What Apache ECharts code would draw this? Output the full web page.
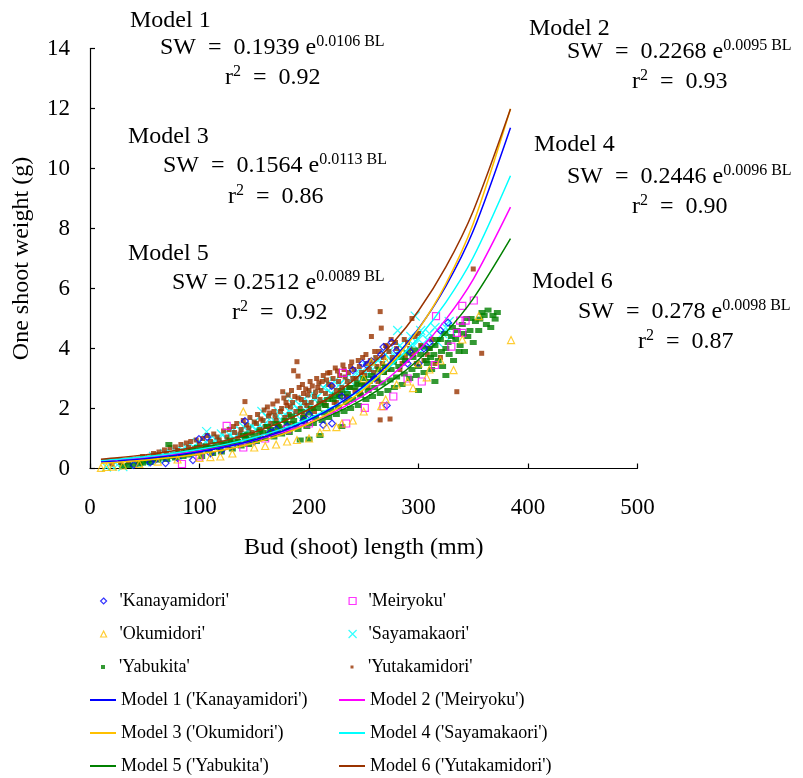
<!DOCTYPE html>
<html><head><meta charset="utf-8">
<script src="https://cdn.jsdelivr.net/npm/echarts@6/dist/echarts.min.js"></script>
<style>html,body{margin:0;padding:0;background:#fff}#c{width:803px;height:778px}</style>
</head><body><div id="c"></div>
<script>
// ---- data: [bud length (mm), shoot weight (g)] ----
const kanayamidori = [[40,0.12],[55,0.2],[60,0.3],[69,0.18],[80,0.35],[94,0.28],[99.5,0.98],[107,1.05],[110,0.5],[120,0.6],[130,0.75],[141.5,1.58],[150,0.9],[165,1.2],[170,1.3],[180,1.4],[195,1.6],[200,1.8],[213,1.45],[220.7,2.75],[221,1.5],[230,2.4],[240,3.28],[249,3.5],[252.6,3.45],[257,3.58],[260,3.0],[266,3.8],[268,4.05],[271,2.1],[275.5,4.2],[280,3.93],[290,3.5],[292,3.9],[300,3.5],[305,4.0],[310,4.2],[320,4.6],[327,4.86]];
const meiryoku = [[84,0.15],[100,0.4],[124.8,1.42],[140,0.7],[160,1.0],[180,1.3],[200,1.5],[231,3.19],[234,1.5],[251,2.02],[268,2.08],[277,2.4],[290,3.0],[303,2.9],[315,3.45],[316,5.08],[330,4.06],[335,4.52],[338,4.93],[340,4.52],[340,5.42],[343,4.93],[350.5,5.6]];
const okumidori = [[10,0.02],[15,0.05],[21,0.06],[30,0.1],[45,0.15],[62,0.23],[80,0.3],[100,0.35],[110,0.38],[119,0.4],[130,0.5],[140,1.9],[150,0.7],[160,0.75],[170,0.8],[180,0.9],[189,0.95],[200,1.0],[210,1.2],[216,1.38],[225,1.38],[230,1.5],[240,1.6],[250,1.9],[250,3.0],[257,3.56],[265,3.3],[266,2.08],[270,2.3],[270,3.6],[280,2.8],[285,3.9],[290,2.9],[295,2.68],[300,3.5],[307.5,3.04],[310,3.3],[320,3.6],[332,3.28],[340,4.3],[355,5.08],[384.5,4.28]];
const sayamakaori = [[15,0.05],[20,0.08],[25,0.12],[30,0.06],[35,0.15],[40,0.2],[45,0.25],[50,0.22],[52,0.28],[55,0.3],[58,0.4],[60,0.35],[62,0.32],[65,0.4],[68,0.5],[70,0.38],[72,0.45],[75,0.5],[78,0.58],[80,0.45],[82,0.55],[85,0.6],[88,0.7],[90,0.55],[92,0.65],[95,0.7],[98,0.85],[100,0.65],[103,0.8],[106.5,1.23],[108,0.8],[110,1.0],[112,0.9],[115,0.95],[118,1.0],[120,1.15],[122,0.85],[125,1.0],[128,1.1],[130,1.25],[132,1.0],[135,1.15],[138,1.25],[140,1.4],[142,1.15],[145,1.3],[148,1.4],[150,1.55],[152,1.3],[155,1.45],[157,1.9],[160,1.5],[162,1.7],[165,1.4],[168,1.6],[170,1.7],[172,1.9],[175,1.6],[178,1.8],[181,2.42],[182,1.9],[185,2.15],[188,1.8],[190,2.0],[192,2.1],[195,2.3],[198,2.0],[200,2.2],[203,2.5],[205,2.3],[208,2.4],[210,2.2],[213,2.7],[217,2.85],[218,2.6],[220,2.5],[223,2.9],[225,2.4],[228,2.8],[230,2.75],[233,3.0],[235,2.6],[238,2.9],[240,3.0],[243,3.2],[245,2.9],[248,3.1],[250,3.2],[253,3.4],[255,3.1],[258,3.3],[260,3.5],[263,3.6],[265,3.3],[268,3.5],[270,3.8],[273,3.9],[275,3.6],[278,3.8],[281,4.6],[283,4.1],[285,4.0],[288,3.9],[290,4.2],[293,4.4],[296,4.1],[297,5.08],[300,4.3],[302,4.6],[305,4.0],[308,4.3],[310,4.5],[315,4.7],[318,4.2],[322,4.5],[325,4.7],[328,4.9],[330,4.4]];
const yabukita = [[30,0.08],[35,0.1],[40,0.12],[45,0.15],[48,0.18],[52,0.25],[55,0.2],[58,0.3],[62,0.28],[65,0.35],[70,0.3],[72,0.8],[75,0.4],[78,0.35],[82,0.5],[85,0.4],[88,0.55],[90,0.45],[93,0.6],[95,0.5],[98,0.7],[100,0.55],[102,0.4],[104,0.65],[106,0.75],[108,0.6],[110,0.7],[112,0.5],[115,0.8],[118,0.7],[120,0.55],[122,0.85],[125,0.8],[128,0.95],[130,0.65],[132,0.85],[135,0.9],[138,0.75],[140,1.1],[142,1.0],[144,1.15],[145,0.8],[148,0.95],[150,1.1],[152,0.9],[155,1.25],[156,1.0],[158,1.2],[160,1.0],[162,1.4],[163,1.15],[165,1.3],[168,1.05],[170,1.5],[171,1.25],[172,1.4],[175,1.15],[178,1.6],[179,1.3],[180,1.5],[182,1.2],[184,1.75],[186,1.6],[188,1.45],[190,1.3],[192,0.95],[193,1.9],[195,1.7],[196,1.55],[198,1.4],[200,1.85],[200,0.98],[202,2.0],[204,1.5],[206,1.7],[208,2.0],[210,1.1],[210,2.15],[212,1.6],[214,1.85],[215,2.1],[217,2.3],[218,1.7],[220,1.95],[222,2.3],[224,2.45],[225,1.8],[227,2.05],[228,2.4],[230,1.4],[230,2.6],[232,1.9],[234,2.2],[235,2.5],[237,2.7],[238,2.0],[240,2.3],[242,2.7],[244,2.85],[245,2.1],[247,2.45],[248,2.8],[250,3.0],[252,2.3],[254,2.6],[255,2.9],[257,3.1],[258,2.4],[260,2.7],[262,3.0],[264,3.3],[265,2.5],[267,2.85],[268,3.2],[270,3.4],[272,2.6],[274,2.95],[275,3.3],[277,3.55],[278,2.7],[280,3.05],[282,3.4],[284,3.7],[285,2.8],[287,3.15],[288,3.6],[290,3.85],[292,3.0],[294,3.3],[295,3.7],[297,3.95],[298,3.1],[300,2.6],[300,3.4],[302,3.8],[304,4.05],[305,3.2],[307,3.6],[308,3.5],[310,4.0],[311,3.7],[312,3.3],[314,3.8],[315,4.1],[315,2.9],[317,4.3],[318,3.6],[320,4.3],[321,3.9],[322,3.4],[324,4.5],[325,4.0],[325,3.1],[327,4.2],[328,3.8],[330,4.4],[331,4.7],[332,3.6],[334,4.3],[335,4.6],[337,3.9],[338,4.1],[340,4.8],[341,4.5],[342,3.9],[344,5.0],[345,4.4],[347,4.6],[348,5.0],[350,4.2],[352,4.9],[355,4.6],[356,4.98],[358,5.2],[360,5.1],[362,4.8],[363.5,5.28],[366,4.7],[368,5.1],[370,4.98],[372,5.2]];
const yutakamidori = [[20,0.15],[28,0.2],[35,0.22],[40,0.3],[45,0.25],[48,0.4],[50,0.35],[55,0.3],[58,0.5],[60,0.45],[63,0.55],[65,0.4],[68,0.62],[70,0.5],[73,0.7],[75,0.45],[78,0.72],[80,0.6],[83,0.8],[85,0.55],[88,0.85],[90,0.7],[92,0.9],[95,0.65],[97,0.95],[100,0.8],[100,0.6],[103,1.0],[105,0.75],[107,1.1],[110,0.9],[110,0.65],[112,0.7],[113,1.15],[116,1.05],[118,0.95],[120,0.8],[122,1.25],[125,1.05],[125,0.75],[127,1.3],[128,0.9],[131,1.4],[132,1.2],[134,1.5],[135,1.0],[135,0.85],[137,1.15],[138,1.3],[140,1.6],[141.5,2.23],[142,1.1],[143,1.45],[145,1.35],[145,0.95],[146,1.7],[148,1.2],[150,1.55],[152,1.5],[153,1.8],[155,1.3],[155,1.1],[156,1.65],[158,1.6],[159,1.95],[160,1.4],[162,2.05],[163,1.75],[164,1.85],[165,1.5],[165,1.2],[167,2.15],[168,1.9],[169,1.75],[170,1.6],[171,2.25],[172,1.45],[174,1.9],[175,2.0],[175,1.35],[176,2.56],[177,2.35],[178,1.7],[179,2.2],[180,2.1],[181,2.45],[182,1.8],[183,2.05],[184,2.6],[185,2.2],[185,1.5],[186,3.26],[187,2.4],[188,1.9],[189,3.56],[190,3.08],[190,2.35],[191,2.7],[192,2.0],[193,2.3],[194,2.8],[195,2.5],[195,1.75],[196,2.2],[197,2.65],[198,2.1],[199,2.45],[200,2.6],[201,2.9],[202,2.2],[203,2.75],[204,2.0],[205,2.4],[205,1.9],[206,2.55],[207,3.0],[208,2.7],[209,2.85],[210,2.3],[211,2.6],[212,2.9],[213,3.1],[214,2.2],[215,2.5],[215,2.1],[216,2.95],[217,3.18],[218,2.8],[219,3.2],[220,2.4],[221,2.75],[222,3.0],[223,2.2],[224,3.35],[225,2.6],[225,2.2],[226,3.25],[227,2.9],[228,3.1],[229,2.5],[230,2.7],[231,3.45],[232,3.3],[233,3.05],[234,2.4],[235,2.9],[235,2.35],[236,3.2],[237,2.7],[238,3.4],[239,3.55],[240,3.0],[241,3.3],[242,2.6],[243,3.0],[244,2.8],[245,3.6],[245,2.5],[246,3.4],[247,2.5],[248,3.2],[249,3.7],[250,2.8],[251,3.1],[252,3.8],[253,3.5],[254,2.7],[255,3.3],[256,3.6],[257,4.4],[258,3.0],[259,3.2],[260,3.9],[261,3.7],[262,3.4],[263,2.9],[264,3.9],[265,5.23],[265,1.62],[266,4.68],[267,3.5],[268,3.7],[269,3.2],[270,4.1],[271,4.06],[272,3.3],[273,3.9],[274,1.65],[275,4.3],[276,3.7],[278,3.6],[279,4.2],[280,4.0],[282,3.8],[283,3.3],[285,3.5],[287,4.3],[288,3.7],[290,4.2],[292,4.0],[294,5.0],[295,3.8],[297,4.4],[298,3.5],[300,4.5],[302,4.1],[305,3.6],[308,3.8],[310,4.0],[312,4.3],[315,3.5],[320,3.7],[335,2.56],[350,6.65],[357.7,3.84]];

// model curves, tabulated at modelX
const modelX = [10,25,50,75,100,125,150,175,200,225,250,275,300,325,350,384];
const model1 = [0.216,0.253,0.329,0.429,0.560,0.730,0.951,1.239,1.615,2.106,2.744,3.577,4.663,6.077,7.922,11.36];
const model2 = [0.249,0.288,0.365,0.463,0.586,0.744,0.943,1.196,1.516,1.923,2.438,3.092,3.921,4.972,6.305,8.71];
const model3 = [0.175,0.208,0.275,0.365,0.484,0.642,0.852,1.130,1.499,1.988,2.637,3.498,4.640,6.154,8.164,11.99];
const model4 = [0.269,0.311,0.395,0.503,0.639,0.812,1.032,1.312,1.668,2.121,2.696,3.428,4.357,5.539,7.042,9.76];
const model5 = [0.275,0.314,0.392,0.490,0.612,0.764,0.955,1.192,1.490,1.861,2.324,2.904,3.627,4.531,5.661,7.66];
const model6 = [0.307,0.355,0.454,0.580,0.741,0.946,1.209,1.545,1.974,2.522,3.222,4.116,5.259,6.718,8.584,11.98];

const xTicks = [0,100,200,300,400,500];
const yTicks = [0,2,4,6,8,10,12,14];

const FONT = 'Liberation Serif';
const names = {
  k:"'Kanayamidori'", m:"'Meiryoku'", o:"'Okumidori'", s:"'Sayamakaori'", y:"'Yabukita'", t:"'Yutakamidori'",
  m1:"Model 1 ('Kanayamidori')", m2:"Model 2 ('Meiryoku')", m3:"Model 3 ('Okumidori')",
  m4:"Model 4 ('Sayamakaori')", m5:"Model 5 ('Yabukita')", m6:"Model 6 ('Yutakamidori')"
};
const C = {blue:'#0000FF', mag:'#FF00FF', yel:'#FFC000', cyan:'#00FFFF', green:'#008000', brown:'#993300'};
const XPATH = 'path://M0,0L10,10M10,0L0,10';

function hollow(name, data, symbol, size, color) {
  return {name, type:'scatter', data, symbol, symbolSize:size,
    itemStyle:{color:'rgba(0,0,0,0)', borderColor:color, borderWidth:1.2}, z:2};
}
function filled(name, data, size, color) {
  return {name, type:'scatter', data, symbol:'rect', symbolSize:size, itemStyle:{color}, z:2};
}
function curve(name, ys, color) {
  return {name, type:'line', data: modelX.map((x,i)=>[x, ys[i]]), symbol:'none', smooth:0.3,
    lineStyle:{color, width:1.5}, itemStyle:{color}, z:3};
}

const series = [
  hollow(names.s, sayamakaori, XPATH, 9, C.cyan),
  filled(names.t, yutakamidori, [5,5], C.brown),
  filled(names.y, yabukita, [7,5], C.green),
  hollow(names.k, kanayamidori, 'diamond', 7, C.blue),
  hollow(names.m, meiryoku, 'rect', 7, C.mag),
  hollow(names.o, okumidori, 'triangle', 7, C.yel),
  curve(names.m5, model5, C.green),
  curve(names.m2, model2, C.mag),
  curve(names.m4, model4, C.cyan),
  curve(names.m1, model1, C.blue),
  curve(names.m3, model3, C.yel),
  curve(names.m6, model6, C.brown)
];

// legend layout: [name, column, row, icon, icon size, border]
const legendRows = [
  [names.k,0,0,'diamond',6,1.2],[names.m,1,0,'rect',7,1.2],
  [names.o,0,1,'triangle',6,1.2],[names.s,1,1,XPATH,8,1.2],
  [names.y,0,2,'rect',4,0],[names.t,1,2,'rect',3,0],
  [names.m1,0,3,'line'],[names.m2,1,3,'line'],
  [names.m3,0,4,'line'],[names.m4,1,4,'line'],
  [names.m5,0,5,'line'],[names.m6,1,5,'line']
];
const colLeft = [90, 339];
const colCenter = [103, 352];
const textStyle = {fontFamily:FONT, fontSize:18, color:'#000'};
const legends = legendRows.map(([n,c,r,icon,sz,bw]) => {
  const top = 592 + r*33;
  if (icon === 'line') {
    return {data:[{name:n, icon:'rect'}], left:colLeft[c], top, padding:0,
      itemWidth:26, itemHeight:2, selectedMode:false, itemStyle:{borderWidth:0}, textStyle};
  }
  return {data:[{name:n, icon}], left:colCenter[c]-sz/2, top, padding:0,
    itemWidth:sz, itemHeight:sz, selectedMode:false, itemStyle:{borderWidth:bw},
    textStyle:Object.assign({padding:[0,0,0,11 - sz/2]}, textStyle)};
});

// annotation texts
const rich = {
  a:{fontFamily:FONT, fontSize:24, color:'#000', lineHeight:28},
  s:{fontFamily:FONT, fontSize:16, color:'#000', verticalAlign:'top', lineHeight:28}
};
function txt(x, y, text) {
  return {type:'text', x, y, z:10, style:{text, rich, fontFamily:FONT, fontSize:24, fill:'#000', verticalAlign:'middle', align:'left'}};
}
const graphics = [
  txt(130,21,'{a|Model 1}'), txt(160,48,'{a|SW  =  0.1939 e}{s|0.0106 BL}'), txt(225,78,'{a|r}{s|2}{a|  =  0.92}'),
  txt(128,137,'{a|Model 3}'), txt(163,166,'{a|SW  =  0.1564 e}{s|0.0113 BL}'), txt(228,197,'{a|r}{s|2}{a|  =  0.86}'),
  txt(128,254,'{a|Model 5}'), txt(172,283,'{a|SW = 0.2512 e}{s|0.0089 BL}'), txt(232,313,'{a|r}{s|2}{a|  =  0.92}'),
  txt(529,29,'{a|Model 2}'), txt(567,52,'{a|SW  =  0.2268 e}{s|0.0095 BL}'), txt(632,82,'{a|r}{s|2}{a|  =  0.93}'),
  txt(534,145,'{a|Model 4}'), txt(567,177,'{a|SW  =  0.2446 e}{s|0.0096 BL}'), txt(632,207,'{a|r}{s|2}{a|  =  0.90}'),
  txt(532,282,'{a|Model 6}'), txt(578,312,'{a|SW  =  0.278 e}{s|0.0098 BL}'), txt(638,342,'{a|r}{s|2}{a|  =  0.87}')
];

const chart = echarts.init(document.getElementById('c'), null, {renderer:'canvas'});
chart.setOption({
  backgroundColor:'#fff',
  animation:false,
  grid:{left:90, top:48.5, width:547.5, height:420, containLabel:false},
  xAxis:{type:'value', min:xTicks[0], max:xTicks[xTicks.length-1], interval:100,
    name:'Bud (shoot) length (mm)', nameLocation:'middle', nameGap:67,
    nameTextStyle:{fontFamily:FONT, fontSize:24, color:'#000'},
    axisLine:{show:true, lineStyle:{color:'#000', width:1.2}},
    axisTick:{show:true, inside:true, length:5, lineStyle:{color:'#000', width:1.2}},
    axisLabel:{fontFamily:FONT, fontSize:23, color:'#000', margin:28},
    splitLine:{show:false}},
  yAxis:{type:'value', min:yTicks[0], max:yTicks[yTicks.length-1], interval:2,
    name:'One shoot weight (g)', nameLocation:'middle', nameGap:56,
    nameTextStyle:{fontFamily:FONT, fontSize:24, color:'#000'},
    axisLine:{show:true, lineStyle:{color:'#000', width:1.2}},
    axisTick:{show:true, inside:true, length:5, lineStyle:{color:'#000', width:1.2}},
    axisLabel:{fontFamily:FONT, fontSize:23, color:'#000', margin:20},
    splitLine:{show:false}},
  legend: legends,
  series,
  graphic:{elements:graphics}
});
</script></body></html>
